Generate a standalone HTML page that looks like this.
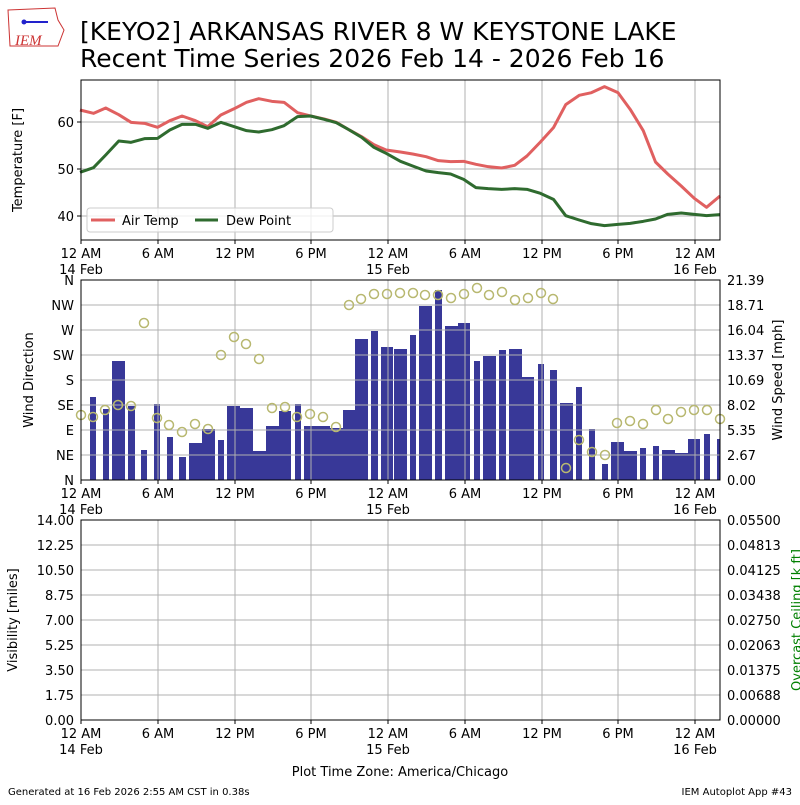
<!DOCTYPE html>
<html><head><meta charset="utf-8"><style>
body{margin:0;background:#fff;}
svg{font-family:"DejaVu Sans","Liberation Sans",sans-serif;}
</style></head><body>
<svg width="800" height="800" viewBox="0 0 800 800" xmlns="http://www.w3.org/2000/svg">
<rect width="800" height="800" fill="#fff"/>
<g>
<path d="M8,10 L55,8 L58,20 L64,30 L58,46 L10,46 Z" fill="#fff" stroke="#c33" stroke-width="1"/>
<line x1="22" y1="22" x2="48" y2="22" stroke="#22c" stroke-width="2"/>
<circle cx="24" cy="22" r="2.5" fill="#22c"/>
<text x="15" y="45" font-size="15" fill="#c33" font-family="Liberation Serif,serif" font-style="italic">IEM</text>
</g>
<text x="80" y="40" font-size="25">[KEYO2] ARKANSAS RIVER 8 W KEYSTONE LAKE</text>
<text x="80" y="67" font-size="25">Recent Time Series 2026 Feb 14 - 2026 Feb 16</text>

<!-- Panel 1 -->
<g stroke="#b0b0b0" stroke-width="1">
<line x1="158" y1="80" x2="158" y2="240"/><line x1="235" y1="80" x2="235" y2="240"/><line x1="311" y1="80" x2="311" y2="240"/><line x1="388" y1="80" x2="388" y2="240"/><line x1="465" y1="80" x2="465" y2="240"/><line x1="542" y1="80" x2="542" y2="240"/><line x1="618" y1="80" x2="618" y2="240"/><line x1="695" y1="80" x2="695" y2="240"/>
<line x1="81" y1="122" x2="720" y2="122"/><line x1="81" y1="169" x2="720" y2="169"/><line x1="81" y1="216" x2="720" y2="216"/>
</g>
<g transform="translate(80,80) scale(0.40816,0.33333)" fill="none" stroke-width="3" stroke-linejoin="round">
<polyline vector-effect="non-scaling-stroke" stroke="#e06060" points="0,90 33,100 63,84 95,104 125,127 158,130 190,142 220,122 250,108 283,122 313,140 345,105 378,86 408,67 438,56 470,64 500,67 533,98 565,108 598,117 628,127 660,150 690,170 720,194 750,210 785,216 815,222 848,230 878,242 908,245 940,244 970,253 1000,260 1033,264 1065,256 1095,228 1128,186 1160,143 1190,74 1223,46 1253,38 1285,20 1318,38 1348,88 1380,152 1410,246 1440,282 1473,318 1505,355 1535,382 1568,348"/>
<polyline vector-effect="non-scaling-stroke" stroke="#2f6b2f" points="0,277 33,263 63,225 95,183 125,187 158,176 190,175 220,150 250,133 283,133 313,145 345,127 378,140 408,152 438,156 470,149 500,137 533,110 565,108 598,118 628,128 660,150 690,172 720,202 750,220 785,244 815,258 848,273 878,278 908,282 940,298 970,323 1000,326 1033,328 1065,326 1095,328 1128,340 1160,358 1190,407 1223,420 1253,431 1285,437 1318,433 1348,430 1380,424 1410,417 1440,403 1473,399 1505,403 1535,407 1568,404"/>
</g>
<rect x="81" y="80" width="639" height="160" fill="none" stroke="#000"/>
<g fill="none">
<rect x="87" y="208" width="246" height="24" rx="3" fill="#fff" fill-opacity="0.8" stroke="#ccc"/>
<line x1="91" y1="220" x2="115" y2="220" stroke="#e06060" stroke-width="3"/>
<line x1="195" y1="220" x2="218" y2="220" stroke="#2f6b2f" stroke-width="3"/>
</g>
<text x="122" y="225" font-size="13">Air Temp</text>
<text x="226" y="225" font-size="13">Dew Point</text>
<g font-size="13" text-anchor="end">
<text x="74" y="127">60</text><text x="74" y="174">50</text><text x="74" y="221">40</text>
</g>
<g stroke="#000"><line x1="77" y1="122" x2="81" y2="122"/><line x1="77" y1="169" x2="81" y2="169"/><line x1="77" y1="216" x2="81" y2="216"/></g>
<text transform="translate(22,160) rotate(-90)" font-size="13" text-anchor="middle">Temperature [F]</text>

<g font-size="13" text-anchor="middle">
<text x="81" y="258">12 AM</text><text x="81" y="274">14 Feb</text><text x="158" y="258">6 AM</text><text x="235" y="258">12 PM</text><text x="311" y="258">6 PM</text><text x="388" y="258">12 AM</text><text x="388" y="274">15 Feb</text><text x="465" y="258">6 AM</text><text x="542" y="258">12 PM</text><text x="618" y="258">6 PM</text><text x="695" y="258">12 AM</text><text x="695" y="274">16 Feb</text>
<text x="81" y="498">12 AM</text><text x="81" y="514">14 Feb</text><text x="158" y="498">6 AM</text><text x="235" y="498">12 PM</text><text x="311" y="498">6 PM</text><text x="388" y="498">12 AM</text><text x="388" y="514">15 Feb</text><text x="465" y="498">6 AM</text><text x="542" y="498">12 PM</text><text x="618" y="498">6 PM</text><text x="695" y="498">12 AM</text><text x="695" y="514">16 Feb</text>
<text x="81" y="738">12 AM</text><text x="81" y="754">14 Feb</text><text x="158" y="738">6 AM</text><text x="235" y="738">12 PM</text><text x="311" y="738">6 PM</text><text x="388" y="738">12 AM</text><text x="388" y="754">15 Feb</text><text x="465" y="738">6 AM</text><text x="542" y="738">12 PM</text><text x="618" y="738">6 PM</text><text x="695" y="738">12 AM</text><text x="695" y="754">16 Feb</text>
</g>
<g stroke="#000">
<line x1="81" y1="240" x2="81" y2="244"/><line x1="158" y1="240" x2="158" y2="244"/><line x1="235" y1="240" x2="235" y2="244"/><line x1="311" y1="240" x2="311" y2="244"/><line x1="388" y1="240" x2="388" y2="244"/><line x1="465" y1="240" x2="465" y2="244"/><line x1="542" y1="240" x2="542" y2="244"/><line x1="618" y1="240" x2="618" y2="244"/><line x1="695" y1="240" x2="695" y2="244"/>
<line x1="81" y1="480" x2="81" y2="484"/><line x1="158" y1="480" x2="158" y2="484"/><line x1="235" y1="480" x2="235" y2="484"/><line x1="311" y1="480" x2="311" y2="484"/><line x1="388" y1="480" x2="388" y2="484"/><line x1="465" y1="480" x2="465" y2="484"/><line x1="542" y1="480" x2="542" y2="484"/><line x1="618" y1="480" x2="618" y2="484"/><line x1="695" y1="480" x2="695" y2="484"/>
<line x1="81" y1="720" x2="81" y2="724"/><line x1="158" y1="720" x2="158" y2="724"/><line x1="235" y1="720" x2="235" y2="724"/><line x1="311" y1="720" x2="311" y2="724"/><line x1="388" y1="720" x2="388" y2="724"/><line x1="465" y1="720" x2="465" y2="724"/><line x1="542" y1="720" x2="542" y2="724"/><line x1="618" y1="720" x2="618" y2="724"/><line x1="695" y1="720" x2="695" y2="724"/>
</g>

<!-- Panel 2 -->
<g fill="#383898">
<rect x="90" y="397" width="6" height="83"/><rect x="103" y="409" width="6" height="71"/><rect x="112" y="361" width="13" height="119"/><rect x="128" y="406" width="7" height="74"/><rect x="141" y="450" width="6" height="30"/><rect x="154" y="404" width="6" height="76"/><rect x="167" y="437" width="6" height="43"/><rect x="179" y="457" width="7" height="23"/><rect x="189" y="443" width="13" height="37"/><rect x="202" y="429" width="13" height="51"/><rect x="218" y="440" width="6" height="40"/><rect x="227" y="406" width="13" height="74"/><rect x="240" y="408" width="13" height="72"/><rect x="253" y="451" width="13" height="29"/><rect x="266" y="426" width="13" height="54"/><rect x="279" y="411" width="12" height="69"/><rect x="295" y="404" width="6" height="76"/><rect x="304" y="426" width="26" height="54"/><rect x="330" y="428" width="13" height="52"/><rect x="343" y="410" width="12" height="70"/><rect x="355" y="339" width="13" height="141"/><rect x="371" y="331" width="7" height="149"/><rect x="381" y="347" width="12" height="133"/><rect x="394" y="349" width="13" height="131"/>
<rect x="410" y="335" width="6" height="145"/><rect x="419" y="306" width="13" height="174"/><rect x="435" y="290" width="7" height="190"/><rect x="445" y="326" width="13" height="154"/><rect x="458" y="323" width="12" height="157"/><rect x="474" y="361" width="6" height="119"/><rect x="483" y="356" width="13" height="124"/><rect x="499" y="350" width="7" height="130"/><rect x="509" y="349" width="13" height="131"/><rect x="522" y="377" width="12" height="103"/><rect x="538" y="364" width="6" height="116"/><rect x="550" y="370" width="7" height="110"/><rect x="560" y="403" width="13" height="77"/><rect x="576" y="387" width="6" height="93"/><rect x="589" y="429" width="6" height="51"/><rect x="602" y="464" width="6" height="16"/><rect x="611" y="442" width="13" height="38"/><rect x="624" y="451" width="13" height="29"/><rect x="640" y="448" width="6" height="32"/><rect x="653" y="446" width="6" height="34"/><rect x="662" y="450" width="13" height="30"/><rect x="675" y="453" width="13" height="27"/><rect x="688" y="439" width="12" height="41"/><rect x="704" y="434" width="6" height="46"/><rect x="717" y="439" width="3" height="41"/>
</g>
<g stroke="#b0b0b0" stroke-width="1">
<line x1="158" y1="280" x2="158" y2="480"/><line x1="235" y1="280" x2="235" y2="480"/><line x1="311" y1="280" x2="311" y2="480"/><line x1="388" y1="280" x2="388" y2="480"/><line x1="465" y1="280" x2="465" y2="480"/><line x1="542" y1="280" x2="542" y2="480"/><line x1="618" y1="280" x2="618" y2="480"/><line x1="695" y1="280" x2="695" y2="480"/>
<line x1="81" y1="305" x2="720" y2="305"/><line x1="81" y1="330" x2="720" y2="330"/><line x1="81" y1="355" x2="720" y2="355"/><line x1="81" y1="380" x2="720" y2="380"/><line x1="81" y1="405" x2="720" y2="405"/><line x1="81" y1="430" x2="720" y2="430"/><line x1="81" y1="455" x2="720" y2="455"/>
</g>
<g fill="none" stroke="#b8b870" stroke-width="1.5">
<circle cx="81" cy="415" r="4.5"/><circle cx="93" cy="417" r="4.5"/><circle cx="105" cy="410" r="4.5"/><circle cx="118" cy="405" r="4.5"/><circle cx="131" cy="406" r="4.5"/><circle cx="144" cy="323" r="4.5"/><circle cx="157" cy="418" r="4.5"/><circle cx="169" cy="425" r="4.5"/><circle cx="182" cy="432" r="4.5"/><circle cx="195" cy="424" r="4.5"/><circle cx="208" cy="429" r="4.5"/><circle cx="221" cy="355" r="4.5"/><circle cx="234" cy="337" r="4.5"/><circle cx="246" cy="344" r="4.5"/><circle cx="259" cy="359" r="4.5"/><circle cx="272" cy="408" r="4.5"/><circle cx="285" cy="407" r="4.5"/><circle cx="297" cy="417" r="4.5"/><circle cx="310" cy="414" r="4.5"/><circle cx="323" cy="417" r="4.5"/><circle cx="336" cy="427" r="4.5"/><circle cx="349" cy="305" r="4.5"/><circle cx="361" cy="299" r="4.5"/><circle cx="374" cy="294" r="4.5"/><circle cx="387" cy="294" r="4.5"/><circle cx="400" cy="293" r="4.5"/><circle cx="413" cy="293" r="4.5"/><circle cx="425" cy="295" r="4.5"/><circle cx="438" cy="295" r="4.5"/><circle cx="451" cy="298" r="4.5"/><circle cx="464" cy="294" r="4.5"/><circle cx="477" cy="288" r="4.5"/><circle cx="489" cy="295" r="4.5"/><circle cx="502" cy="292" r="4.5"/><circle cx="515" cy="300" r="4.5"/><circle cx="528" cy="298" r="4.5"/><circle cx="541" cy="293" r="4.5"/><circle cx="553" cy="299" r="4.5"/><circle cx="566" cy="468" r="4.5"/><circle cx="579" cy="440" r="4.5"/><circle cx="592" cy="452" r="4.5"/><circle cx="605" cy="455" r="4.5"/><circle cx="617" cy="423" r="4.5"/><circle cx="630" cy="421" r="4.5"/><circle cx="643" cy="424" r="4.5"/><circle cx="656" cy="410" r="4.5"/><circle cx="668" cy="419" r="4.5"/><circle cx="681" cy="412" r="4.5"/><circle cx="694" cy="410" r="4.5"/><circle cx="707" cy="410" r="4.5"/><circle cx="720" cy="419" r="4.5"/>
</g>
<rect x="81" y="280" width="639" height="200" fill="none" stroke="#000"/>
<g font-size="13" text-anchor="end">
<text x="74" y="285">N</text><text x="74" y="310">NW</text><text x="74" y="335">W</text><text x="74" y="360">SW</text><text x="74" y="385">S</text><text x="74" y="410">SE</text><text x="74" y="435">E</text><text x="74" y="460">NE</text><text x="74" y="485">N</text>
</g>
<g font-size="13">
<text x="727" y="285">21.39</text><text x="727" y="310">18.71</text><text x="727" y="335">16.04</text><text x="727" y="360">13.37</text><text x="727" y="385">10.69</text><text x="727" y="410">8.02</text><text x="727" y="435">5.35</text><text x="727" y="460">2.67</text><text x="727" y="485">0.00</text>
</g>
<text transform="translate(33,380) rotate(-90)" font-size="13" text-anchor="middle">Wind Direction</text>
<text transform="translate(782,380) rotate(-90)" font-size="13" text-anchor="middle">Wind Speed [mph]</text>

<!-- Panel 3 -->
<g stroke="#b0b0b0" stroke-width="1">
<line x1="158" y1="520" x2="158" y2="720"/><line x1="235" y1="520" x2="235" y2="720"/><line x1="311" y1="520" x2="311" y2="720"/><line x1="388" y1="520" x2="388" y2="720"/><line x1="465" y1="520" x2="465" y2="720"/><line x1="542" y1="520" x2="542" y2="720"/><line x1="618" y1="520" x2="618" y2="720"/><line x1="695" y1="520" x2="695" y2="720"/>
<line x1="81" y1="545" x2="720" y2="545"/><line x1="81" y1="570" x2="720" y2="570"/><line x1="81" y1="595" x2="720" y2="595"/><line x1="81" y1="620" x2="720" y2="620"/><line x1="81" y1="645" x2="720" y2="645"/><line x1="81" y1="670" x2="720" y2="670"/><line x1="81" y1="695" x2="720" y2="695"/>
</g>
<rect x="81" y="520" width="639" height="200" fill="none" stroke="#000"/>
<g font-size="13" text-anchor="end">
<text x="74" y="525">14.00</text><text x="74" y="550">12.25</text><text x="74" y="575">10.50</text><text x="74" y="600">8.75</text><text x="74" y="625">7.00</text><text x="74" y="650">5.25</text><text x="74" y="675">3.50</text><text x="74" y="700">1.75</text><text x="74" y="725">0.00</text>
</g>
<g font-size="13">
<text x="727" y="525">0.05500</text><text x="727" y="550">0.04813</text><text x="727" y="575">0.04125</text><text x="727" y="600">0.03438</text><text x="727" y="625">0.02750</text><text x="727" y="650">0.02063</text><text x="727" y="675">0.01375</text><text x="727" y="700">0.00688</text><text x="727" y="725">0.00000</text>
</g>
<text transform="translate(17,620) rotate(-90)" font-size="13" text-anchor="middle">Visibility [miles]</text>
<text transform="translate(801,620) rotate(-90)" font-size="13" text-anchor="middle" fill="#008000">Overcast Ceiling [k ft]</text>
<text x="400" y="776" font-size="13" text-anchor="middle">Plot Time Zone: America/Chicago</text>
<text x="8" y="795" font-size="10">Generated at 16 Feb 2026 2:55 AM CST in 0.38s</text>
<text x="792" y="795" font-size="10" text-anchor="end">IEM Autoplot App #43</text>
</svg>
</body></html>
